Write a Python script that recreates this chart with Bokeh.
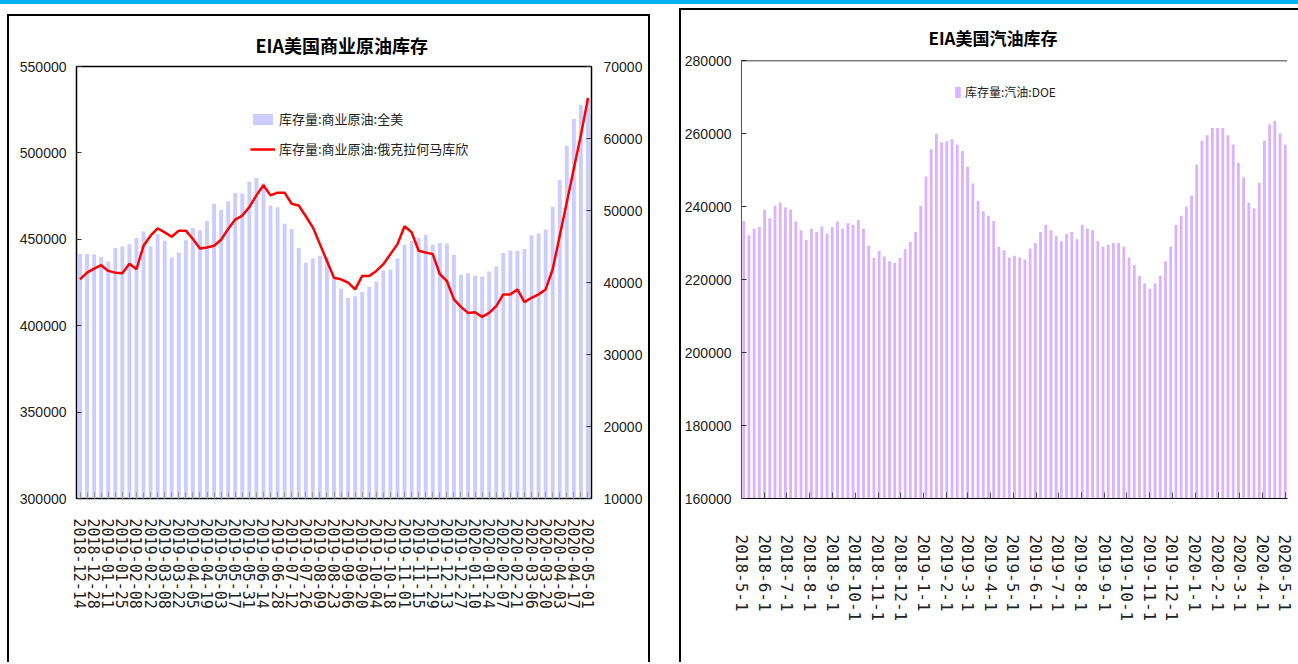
from datetime import date, timedelta
from bokeh.plotting import figure
from bokeh.layouts import row, column
from bokeh.models import (Range1d, LinearAxis, FixedTicker, Legend, LegendItem, Div, Span,
                          BasicTickFormatter, ColumnDataSource)
from bokeh.embed import file_html
from bokeh.resources import INLINE

# ---------------- data ----------------
# Left: EIA US commercial crude stocks (weekly, thousand barrels)
crude_start = date(2018, 12, 14)
crude_weeks = [(crude_start + timedelta(weeks=i)).isoformat() for i in range(73)]
us_crude = [
    441500, 441500, 441400, 439700, 437100, 445000, 445900, 447200, 450800, 454500,
    445900, 452900, 449100, 439500, 442300, 449500, 456600, 455200, 460600, 470600,
    467000, 472000, 476800, 476500, 483300, 485500, 482400, 469600, 468500, 459000,
    455900, 445000, 436500, 438900, 440500, 439100, 428100, 421500, 416100, 417100,
    419500, 422600, 425600, 432000, 432500, 438900, 446800, 449000, 450800, 452500,
    446900, 447900, 447500, 441100, 429500, 430400, 428900, 428500, 431400, 434300,
    442100, 443400, 443400, 444400, 452300, 453300, 455600, 468800, 484300, 504100,
    519600, 527700, 532200]
cushing = [
    40440, 41370, 41930, 42400, 41610, 41370, 41290, 42600, 41840, 45100,
    46500, 47530, 46970, 46360, 47200, 47200, 46040, 44730, 44870, 45100,
    45940, 47440, 48740, 49300, 50470, 52100, 53500, 52100, 52480, 52480,
    50940, 50700, 49200, 47660, 45330, 43000, 40670, 40440, 39970, 39040,
    40910, 40910, 41610, 42540, 43940, 45330, 47810, 46970, 44410, 44170,
    43940, 41150, 40210, 37650, 36620, 35780, 35870, 35220, 35780, 36710,
    38350, 38350, 39040, 37270, 37880, 38350, 39040, 41840, 46500, 51160,
    55840, 60490, 65590]
crude_left_ticks = [300000, 350000, 400000, 450000, 500000, 550000]
crude_right_ticks = [10000, 20000, 30000, 40000, 50000, 60000, 70000]

# Right: EIA US gasoline stocks (weekly, thousand barrels)
gas_origin = date(2018, 5, 1)
gas_start = date(2018, 5, 4)
gasoline = [
    236000, 232100, 233900, 234400, 239100, 236800, 240200, 241100, 239700, 239100,
    235900, 233500, 230800, 233900, 233000, 234500, 232600, 234400, 235900, 233900,
    235400, 235000, 236300, 233900, 229300, 225900, 227800, 226300, 225000, 224500,
    225900, 228300, 230300, 233000, 240200, 248200, 255700, 259900, 257600, 257900,
    258500, 257000, 255200, 250900, 246300, 241500, 238700,
    237500, 236000, 229000, 228000, 226000, 226500, 226000, 225500, 228500, 230000,
    233000, 235000, 233500, 232000, 230500, 232500, 233000, 231000, 235000, 234000,
    233500, 230500, 229000, 229500, 230000, 230000, 229000, 226000, 224000, 221000,
    219000, 217500, 219000, 221000, 225000, 229000, 235000, 237500, 240000, 243000,
    251500, 258000, 259500, 261500, 261500, 261500, 259500, 257000, 252000, 248000,
    241000, 239500, 246500, 258000, 262500, 263500, 260000, 257000]
gas_months = [(2018, m) for m in range(5, 13)] + [(2019, m) for m in range(1, 13)] + [(2020, m) for m in range(1, 6)]
gas_month_labels = ["%d-%d-1" % (y, m) for (y, m) in gas_months]
gas_ticks = [160000, 180000, 200000, 220000, 240000, 260000, 280000]

# ---------------- styling helpers ----------------
CJK = "Noto Sans CJK SC"
NUM = "Liberation Sans"
XFONT = "DejaVu Sans Mono"
BORDER_L = {"border-top": "2px solid #000000", "border-left": "2px solid #000000",
            "border-right": "2px solid #000000", "border-bottom": "0px none",
            "box-sizing": "content-box"}
BORDER_R = {"border-top": "2px solid #000000", "border-left": "2px solid #000000",
            "border-right": "0px none", "border-bottom": "0px none",
            "box-sizing": "content-box"}

# ---------------- left chart ----------------
W1, H1 = 639, 646
idx = list(range(len(crude_weeks)))
src1 = ColumnDataSource(dict(x=idx, crude=us_crude, cush=cushing))

p1 = figure(width=W1, height=H1, x_range=Range1d(-0.5, len(idx) - 0.5),
            y_range=Range1d(300000, 550000), output_backend="svg", toolbar_location=None,
            min_border_left=67, min_border_right=61, min_border_top=50, min_border_bottom=H1 - 480,
            margin=(10, 0, 0, 7), styles=BORDER_L)
p1.extra_y_ranges = {"r": Range1d(10000, 70000)}
p1.xgrid.visible = False
p1.ygrid.visible = False
p1.outline_line_color = "#000000"
p1.outline_line_width = 1.5
p1.background_fill_color = "white"

bars1 = p1.vbar(x="x", top="crude", bottom=300000, width=0.55, source=src1,
                fill_color="#CCCCFF", line_color=None)
line1 = p1.line(x="x", y="cush", source=src1, y_range_name="r", line_color="#FF0000", line_width=2.5)

p1.title.text = "EIA美国商业原油库存"
p1.title.align = "left"
p1.title.offset = 179
p1.title.text_font = CJK
p1.title.text_font_size = "18px"
p1.title.text_font_style = "bold"
p1.title.text_color = "#000000"
p1.title.standoff = 18

ya = p1.yaxis[0]
ya.ticker = FixedTicker(ticks=crude_left_ticks)
ya.formatter = BasicTickFormatter(use_scientific=False)
ry = LinearAxis(y_range_name="r", ticker=FixedTicker(ticks=crude_right_ticks),
                formatter=BasicTickFormatter(use_scientific=False))
p1.add_layout(ry, "right")
for ax in (ya, ry):
    ax.major_tick_in = 5
    ax.major_tick_out = 0
    ax.minor_tick_in = 0
    ax.minor_tick_out = 0
    ax.major_label_text_font = NUM
    ax.major_label_text_font_size = "14px"
    ax.major_label_text_color = "#222222"
    ax.major_label_standoff = 10
    ax.axis_line_color = "#000000"
    ax.major_tick_line_color = "#333333"
ry.major_label_standoff = 12

xa = p1.xaxis[0]
xa.ticker = FixedTicker(ticks=idx[::2], minor_ticks=idx)
xa.major_label_overrides = {i: crude_weeks[i] for i in idx[::2]}
xa.major_label_orientation = "vertical"
xa.major_label_text_font = XFONT
xa.major_label_text_font_size = "15px"
xa.major_label_text_color = "#222222"
xa.major_label_standoff = 20
xa.major_tick_in = 6
xa.major_tick_out = 0
xa.minor_tick_in = 6
xa.minor_tick_out = 0
xa.major_tick_line_color = "#999999"
xa.minor_tick_line_color = "#999999"
xa.axis_line_color = "#000000"

leg1 = Legend(items=[LegendItem(label="库存量:商业原油:全美", renderers=[bars1]),
                     LegendItem(label="库存量:商业原油:俄克拉何马库欣", renderers=[line1])],
              location=(174, 340), border_line_color=None, background_fill_alpha=0,
              glyph_width=25, glyph_height=14, label_text_font=CJK, label_text_font_size="13px",
              label_text_color="#222222", spacing=11, padding=0, margin=0, label_standoff=4)
p1.add_layout(leg1)

# ---------------- right chart ----------------
W2, H2 = 617, 652
gas_x = [((gas_start + timedelta(weeks=i)) - gas_origin).days for i in range(len(gasoline))]
tick_days = [(date(y, m, 1) - gas_origin).days for (y, m) in gas_months]
src2 = ColumnDataSource(dict(x=gas_x, gas=gasoline))

p2 = figure(width=W2, height=H2, x_range=Range1d(0, 734), y_range=Range1d(160000, 280000),
            output_backend="svg", toolbar_location=None,
            min_border_left=60, min_border_right=13, min_border_top=46, min_border_bottom=H2 - 496,
            margin=(4, 0, 0, 29), styles=BORDER_R)
p2.xgrid.visible = False
p2.ygrid.visible = False
p2.outline_line_color = None

bars2 = p2.vbar(x="x", top="gas", bottom=160000, width=3.8, source=src2,
                fill_color="#CC99FF", fill_alpha=0.75, line_color=None)
p2.add_layout(Span(location=280000, dimension="width", line_color="#000000", line_width=1.5))

p2.title.text = "EIA美国汽油库存"
p2.title.align = "left"
p2.title.offset = 187
p2.title.text_font = CJK
p2.title.text_font_size = "17px"
p2.title.text_font_style = "bold"
p2.title.text_color = "#000000"
p2.title.standoff = 21

ya2 = p2.yaxis[0]
ya2.ticker = FixedTicker(ticks=gas_ticks)
ya2.formatter = BasicTickFormatter(use_scientific=False)
ya2.major_tick_in = 5
ya2.major_tick_out = 0
ya2.minor_tick_in = 0
ya2.minor_tick_out = 0
ya2.major_label_text_font = NUM
ya2.major_label_text_font_size = "14px"
ya2.major_label_text_color = "#222222"
ya2.major_label_standoff = 10
ya2.axis_line_color = "#555555"
ya2.major_tick_line_color = "#333333"

xa2 = p2.xaxis[0]
xa2.ticker = FixedTicker(ticks=tick_days)
xa2.major_label_overrides = {d: lab for d, lab in zip(tick_days, gas_month_labels)}
xa2.major_label_orientation = "vertical"
xa2.major_label_text_font = XFONT
xa2.major_label_text_font_size = "16px"
xa2.major_label_text_color = "#222222"
xa2.major_label_standoff = 36
xa2.major_tick_in = 6
xa2.major_tick_out = 0
xa2.minor_tick_in = 0
xa2.minor_tick_out = 0
xa2.major_tick_line_color = "#555555"
xa2.axis_line_color = "#000000"

leg2 = Legend(items=[LegendItem(label="库存量:汽油:DOE", renderers=[bars2])],
              location=(213, 398), border_line_color=None, background_fill_alpha=0,
              glyph_width=7, glyph_height=14, label_text_font=CJK, label_text_font_size="12px",
              label_text_color="#222222", padding=0, margin=0, label_standoff=4)
p2.add_layout(leg2)

blue = Div(text="", width=1298, height=4, margin=0,
           styles={"background-color": "#00B0F0", "width": "1298px", "height": "4px"})
layout = column(blue, row(p1, p2, spacing=0, margin=0), spacing=0, margin=0)

open("out.html", "w").write(file_html(layout, INLINE))
